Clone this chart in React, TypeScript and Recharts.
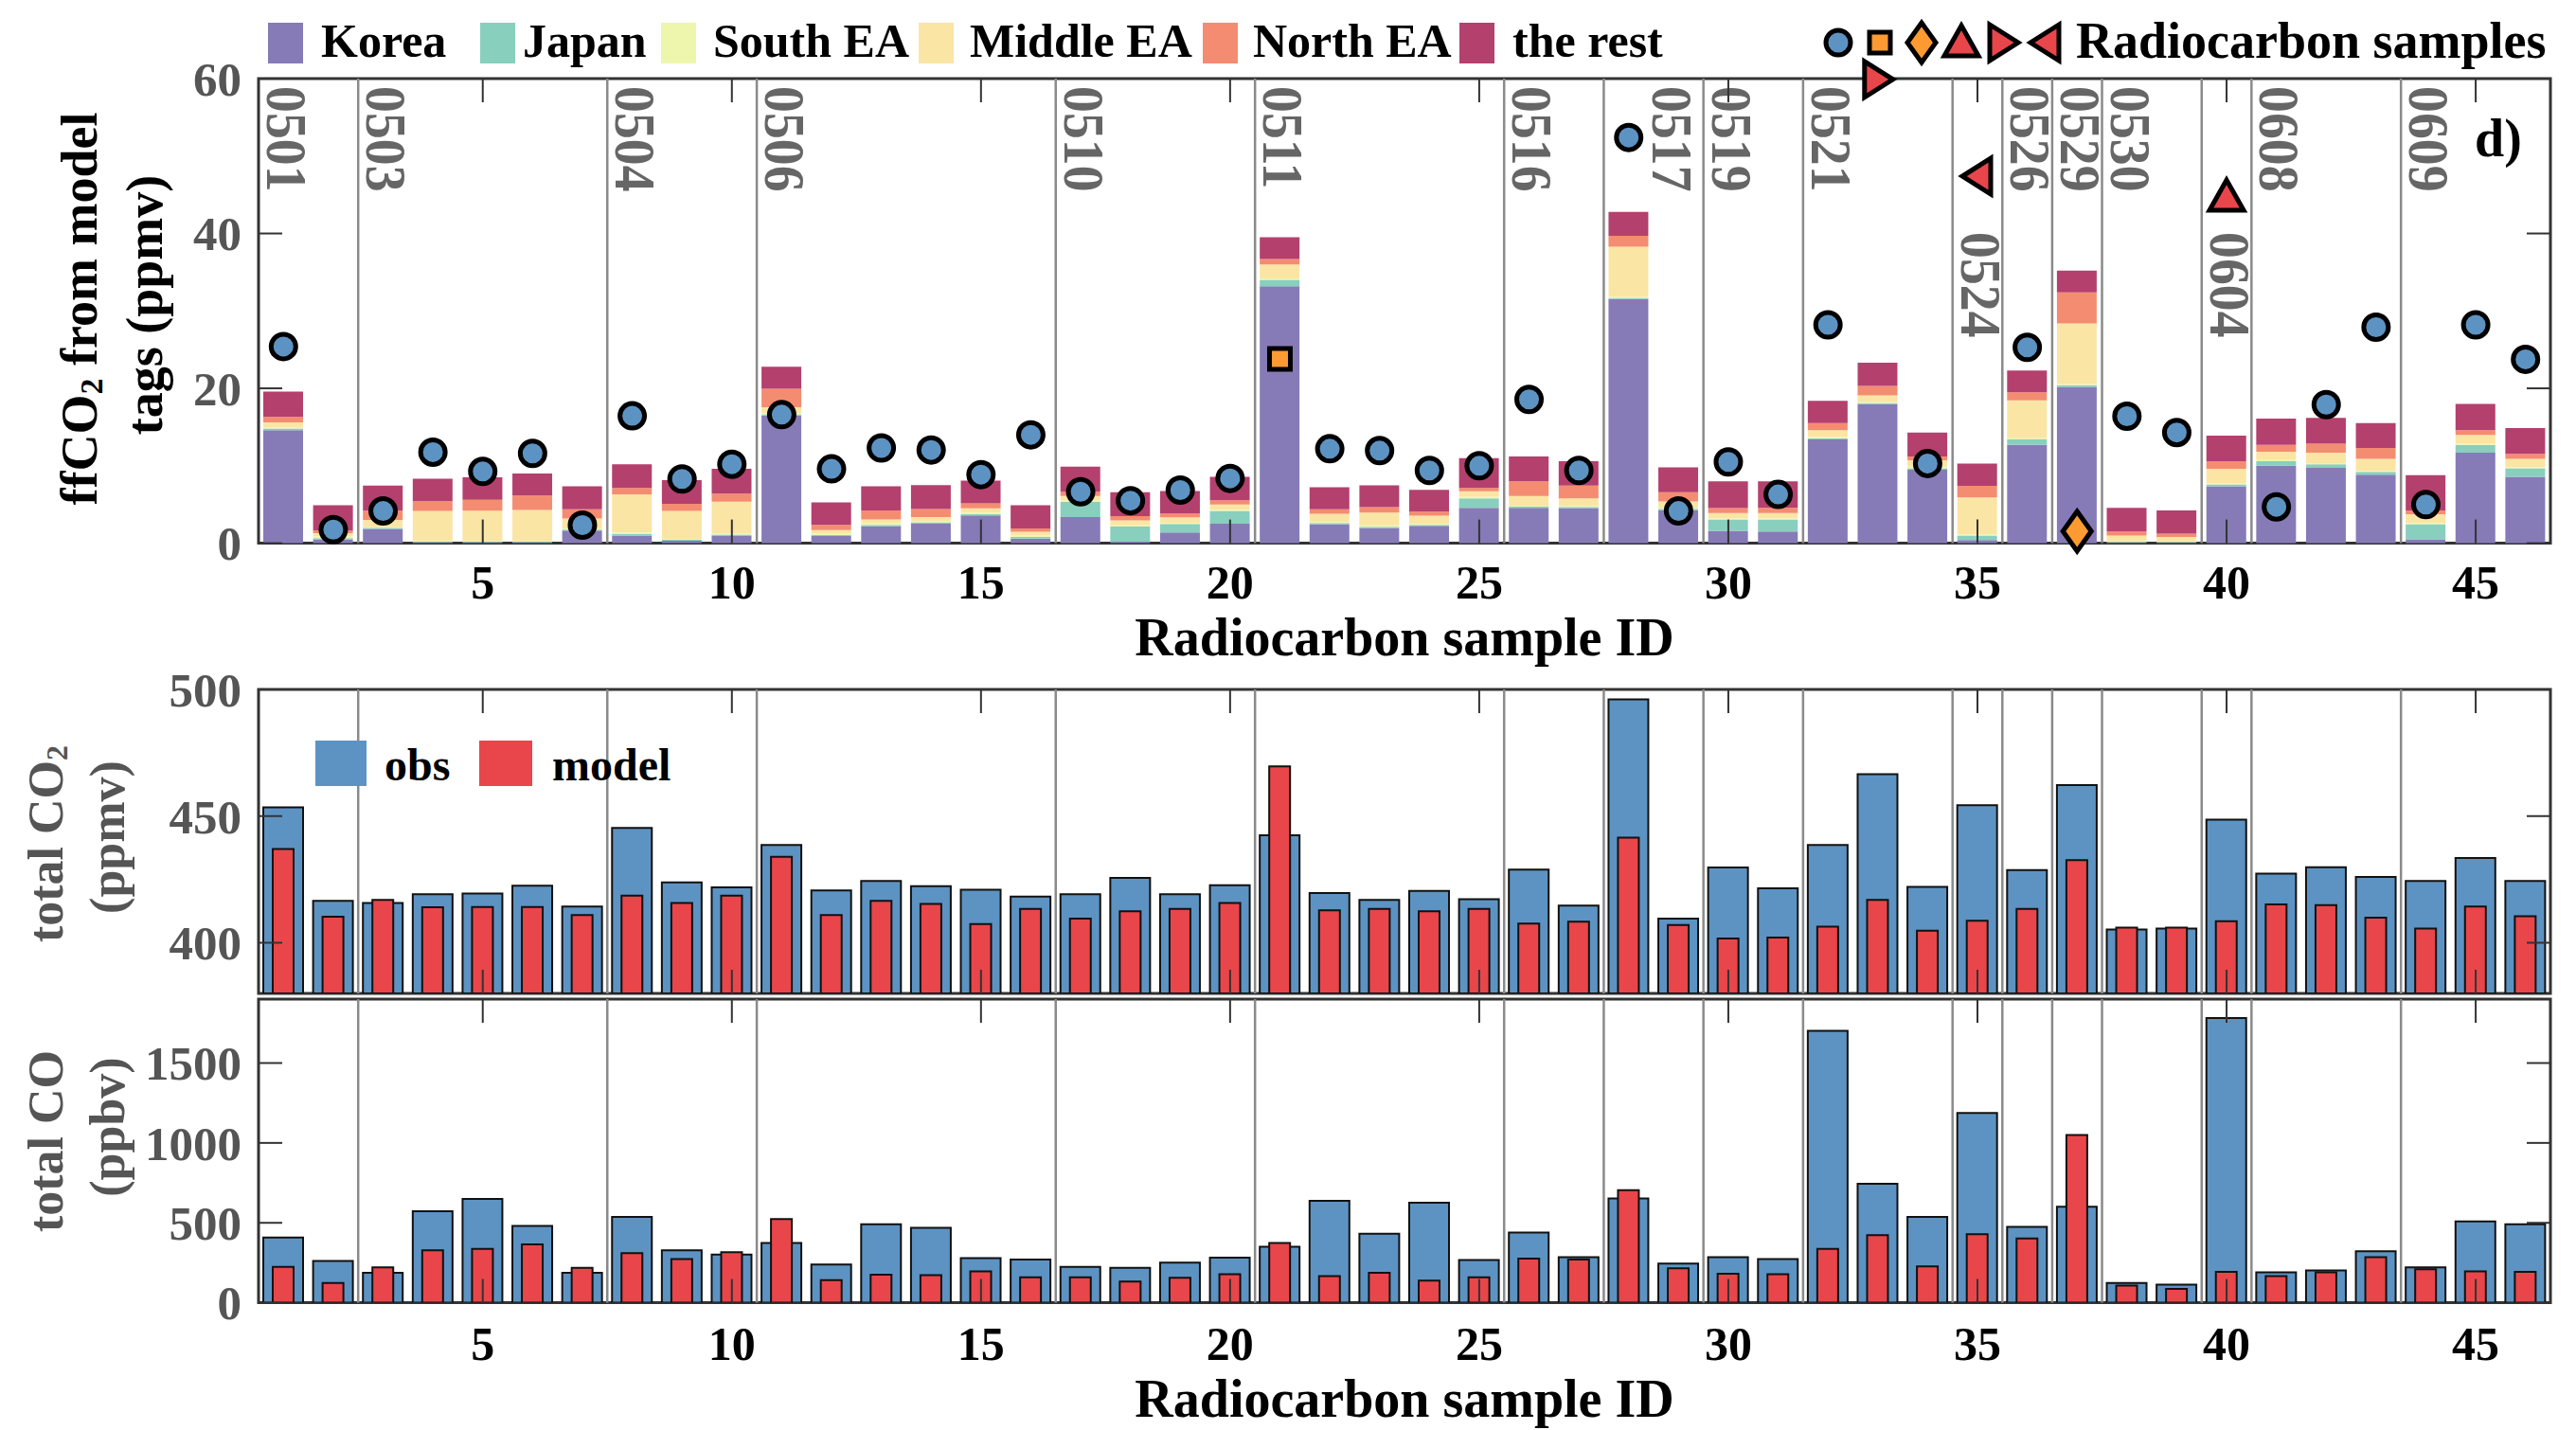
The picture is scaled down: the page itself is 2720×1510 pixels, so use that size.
import React from 'react';
import { ComposedChart, Bar, Scatter, XAxis, YAxis, ReferenceLine, ReferenceArea } from 'recharts';

// ---- data ----
const sampleIds = [1, 2, 3, 4, 5, 6, 7, 8, 9, 10, 11, 12, 13, 14, 15, 16, 17, 18, 19, 20, 21, 22, 23, 24, 25, 26, 27, 28, 29, 30, 31, 32, 33, 34, 35, 36, 37, 38, 39, 40, 41, 42, 43, 44, 45, 46];

const korea = [14.6, 0.5, 1.84, 0.1, 0.1, 0.1, 1.63, 0.98, 0.33, 0.94, 16.5, 0.94, 2.2, 2.53, 3.6, 0.6, 3.39, 0.2, 1.39, 2.53, 33.2, 2.45, 1.96, 2.24, 4.57, 4.57, 4.53, 31.55, 4.29, 1.6, 1.5, 13.4, 17.96, 9.5, 0.4, 12.7, 20.2, 0.08, 0.08, 7.35, 10.0, 9.75, 8.86, 0.5, 11.7, 8.57];
const japan = [0.2, 0.15, 0.16, 0.1, 0.1, 0.1, 0.13, 0.2, 0.12, 0.16, 0.15, 0.12, 0.17, 0.17, 0.15, 0.2, 1.96, 1.96, 1.11, 1.63, 0.8, 0.15, 0.16, 0.13, 1.23, 0.16, 0.17, 0.15, 0.16, 1.46, 1.56, 0.15, 0.14, 0.17, 0.6, 0.7, 0.2, 0.07, 0.04, 0.25, 0.6, 0.45, 0.34, 1.95, 1.0, 1.1];
const southEA = [0.12, 0.25, 0.12, 0.05, 0.05, 0.05, 0.14, 0.17, 0.12, 0.17, 0.15, 0.24, 0.23, 0.2, 0.2, 0.2, 0.15, 0.14, 0.1, 0.17, 0.2, 0.15, 0.18, 0.13, 0.2, 0.12, 0.12, 0.1, 0.15, 0.14, 0.14, 0.15, 0.15, 0.23, 0.14, 0.15, 0.15, 0.15, 0.13, 0.15, 0.15, 0.15, 0.15, 0.15, 0.15, 0.13];
const middleEA = [0.7, 0.4, 0.88, 3.91, 3.95, 4.05, 1.3, 4.95, 3.59, 4.08, 0.75, 0.4, 0.46, 0.49, 0.55, 0.47, 0.6, 0.64, 0.75, 0.67, 1.8, 1.05, 1.66, 1.05, 0.7, 1.25, 0.98, 6.5, 0.8, 0.7, 0.7, 0.9, 0.85, 0.8, 4.76, 4.9, 7.85, 0.7, 0.55, 1.85, 1.05, 1.35, 1.55, 1.15, 1.15, 1.1];
const northEA = [0.7, 0.33, 1.2, 1.27, 1.4, 1.86, 1.17, 0.84, 0.94, 1.05, 2.41, 0.67, 1.18, 1.01, 0.64, 0.43, 0.55, 0.56, 0.49, 0.55, 0.7, 0.57, 0.69, 0.53, 0.44, 1.9, 1.63, 1.4, 1.2, 0.63, 0.67, 0.9, 1.2, 0.5, 1.5, 1.05, 4.0, 0.5, 0.42, 1.0, 0.9, 1.16, 1.4, 0.49, 0.6, 0.65];
const theRest = [3.25, 3.27, 3.23, 2.9, 2.9, 2.84, 2.98, 3.06, 3.06, 3.2, 2.84, 2.9, 3.11, 3.1, 2.94, 3.0, 3.25, 3.1, 2.89, 3.02, 2.8, 2.85, 2.82, 2.82, 3.86, 3.2, 3.17, 3.1, 3.2, 3.47, 3.43, 2.9, 3.0, 3.1, 2.9, 2.8, 2.8, 3.07, 3.02, 3.3, 3.4, 3.34, 3.2, 4.56, 3.4, 3.31];

const obsCO2 = [453.5, 416.5, 415.7, 419.2, 419.4, 422.5, 414.3, 445.3, 423.8, 421.9, 438.6, 420.7, 424.4, 422.3, 420.9, 418.2, 419.2, 425.6, 419.2, 422.7, 442.4, 419.6, 416.9, 420.5, 417.2, 428.9, 414.7, 496.1, 409.5, 429.7, 421.5, 438.6, 466.5, 422.1, 454.3, 428.7, 462.2, 405.2, 405.6, 448.6, 427.3, 429.8, 426, 424.4, 433.5, 424.4];
const modelCO2 = [437, 410.3, 416.9, 414, 414.1, 414.1, 410.9, 418.6, 415.7, 418.6, 433.9, 410.9, 416.5, 415.3, 407.4, 413.4, 409.5, 412.4, 413.4, 415.7, 469.6, 412.8, 413.4, 412.4, 413.4, 407.6, 408.3, 441.5, 407, 401.7, 402.1, 406.4, 416.9, 404.8, 408.7, 413.4, 432.6, 406, 406, 408.5, 415.1, 414.9, 409.9, 405.6, 414.3, 410.5];
const obsCO = [408, 261, 187, 573, 650, 481, 187, 537, 328, 301, 374, 239, 491, 469, 279, 270, 224, 218, 251, 282, 350, 638, 432, 626, 267, 439, 285, 653, 245, 285, 273, 1702, 745, 537, 1187, 475, 601, 123, 113, 1782, 190, 202, 322, 221, 509, 491];
const modelCO = [224, 123, 221, 328, 337, 365, 218, 310, 273, 316, 524, 141, 175, 172, 196, 159, 159, 132, 156, 178, 374, 166, 187, 138, 159, 276, 270, 705, 215, 181, 178, 337, 423, 227, 429, 402, 1049, 107, 86, 193, 166, 190, 285, 209, 196, 193];

// radiocarbon sample markers
const circleIds = [1, 2, 3, 4, 5, 6, 7, 8, 9, 10, 11, 12, 13, 14, 15, 16, 17, 18, 19, 20, 22, 23, 24, 25, 26, 27, 28, 29, 30, 31, 32, 34, 36, 38, 39, 41, 42, 43, 44, 45, 46];
const circleVals = [25.4, 1.76, 4.16, 11.76, 9.27, 11.6, 2.33, 16.45, 8.3, 10.2, 16.6, 9.6, 12.3, 12.04, 8.86, 14.0, 6.65, 5.5, 6.86, 8.37, 12.2, 11.96, 9.4, 10.0, 18.57, 9.4, 52.4, 4.16, 10.5, 6.3, 28.2, 10.3, 25.3, 16.4, 14.3, 4.7, 17.9, 27.9, 5.0, 28.2, 23.75];
const squareIds = [21];
const squareVals = [23.8];
const diamondIds = [37];
const diamondVals = [1.55];
const upIds = [40];
const upVals = [44.7];
const rightIds = [33];
const rightVals = [59.9];
const leftIds = [35];
const leftVals = [47.4];

// date separators
const dateTags = ['0501', '0503', '0504', '0506', '0510', '0511', '0516', '0517', '0519', '0521', '0524', '0526', '0529', '0530', '0604', '0608', '0609'];
const datePos = [0.5, 2.5, 7.5, 10.5, 16.5, 20.5, 25.5, 27.5, 29.5, 31.5, 34.5, 35.5, 36.5, 37.5, 39.5, 40.5, 43.5];

const xTicks = [5, 10, 15, 20, 25, 30, 35, 40, 45];
const ffTicks = [0, 20, 40, 60];
const co2Ticks = [400, 450, 500];
const coTicks = [0, 500, 1000, 1500];

// ---- styling ----
const FONT = '"Liberation Serif", "Times New Roman", serif';
const C_KOREA = '#867BB7';
const C_JAPAN = '#88CFBD';
const C_SOUTH = '#EEF6AE';
const C_MIDDLE = '#FBE5A4';
const C_NORTH = '#F48C71';
const C_REST = '#B4406E';
const BLUE = '#5D93C2';
const RED = '#E8464A';
const ORANGE = '#FD9A31';
const AXIS = '#333333';
const SEP = '#8a8a8a';
const PLOT_R = 2693;
const DOMAIN_X: [number, number] = [0.5, 46.5];
// tag placement tweaks (pixels)
const TAG_DROP: Record<string, number> = { '0524': 162, '0604': 162 };
const TAG_SHIFT: Record<string, number> = { '0517': 52 };

const rows = sampleIds.map((id, i) => ({
  id,
  korea: korea[i],
  japan: japan[i],
  southEA: southEA[i],
  middleEA: middleEA[i],
  northEA: northEA[i],
  rest: theRest[i],
  obsCO2: obsCO2[i],
  modelCO2: modelCO2[i],
  obsCO: obsCO[i],
  modelCO: modelCO[i],
}));

const pts = (ids: number[], vals: number[]) => ids.map((id, i) => ({ id, v: vals[i] }));

function Marker({ kind, cx, cy }: any) {
  const common = { stroke: '#000', strokeWidth: 5, strokeLinejoin: 'miter' as const };
  if (kind === 'circle') return <circle cx={cx} cy={cy} r={13} fill={BLUE} {...common} />;
  if (kind === 'square') return <rect x={cx - 11} y={cy - 11} width={22} height={22} fill={ORANGE} {...common} />;
  if (kind === 'diamond')
    return <polygon points={`${cx},${cy - 21} ${cx + 15},${cy} ${cx},${cy + 21} ${cx - 15},${cy}`} fill={ORANGE} {...common} />;
  if (kind === 'up')
    return <polygon points={`${cx},${cy - 18} ${cx + 18},${cy + 14} ${cx - 18},${cy + 14}`} fill={RED} {...common} />;
  if (kind === 'right')
    return <polygon points={`${cx - 14},${cy - 19} ${cx + 16},${cy} ${cx - 14},${cy + 19}`} fill={RED} {...common} />;
  return <polygon points={`${cx + 14},${cy - 19} ${cx - 16},${cy} ${cx + 14},${cy + 19}`} fill={RED} {...common} />;
}

function XTick({ x, y, payload, plotTop, showLabel, labelDy }: any) {
  return (
    <g>
      <line x1={x} x2={x} y1={y} y2={y - 25} stroke={AXIS} strokeWidth={2} />
      <line x1={x} x2={x} y1={plotTop} y2={plotTop + 25} stroke={AXIS} strokeWidth={2} />
      {showLabel && (
        <text x={x} y={y + labelDy} textAnchor="middle" fontFamily={FONT} fontWeight="bold" fontSize={50} fill="#000">
          {payload.value}
        </text>
      )}
    </g>
  );
}

function YTick({ x, y, payload }: any) {
  return (
    <g>
      <line x1={x} x2={x + 25} y1={y} y2={y} stroke={AXIS} strokeWidth={2} />
      <line x1={PLOT_R - 25} x2={PLOT_R} y1={y} y2={y} stroke={AXIS} strokeWidth={2} />
      <text x={x - 18} y={y} dy="0.35em" textAnchor="end" fontFamily={FONT} fontWeight="bold" fontSize={51} fill="#555">
        {payload.value}
      </text>
    </g>
  );
}

const tagLabel = (text: string, show: boolean) => (props: any) => {
  if (!show) return null;
  const vb = props.viewBox || {};
  const x = vb.x ?? 0;
  const y = vb.y ?? 0;
  const drop = TAG_DROP[text] ?? 8;
  const shift = TAG_SHIFT[text] ?? 9;
  return (
    <text
      transform={`translate(${x + shift},${y + drop}) rotate(90) scale(0.9,1)`}
      fontFamily={FONT}
      fontWeight="bold"
      fontSize={62}
      fill="#666"
    >
      {text}
    </text>
  );
};

function separators(showTags: boolean) {
  return datePos.map((p, i) => (
    <ReferenceLine
      key={`sep${i}`}
      xAxisId="a"
      x={p}
      stroke={i === 0 ? 'none' : SEP}
      strokeWidth={2.5}
      label={tagLabel(dateTags[i], showTags)}
    />
  ));
}

function TopPanel() {
  const H = 660;
  const top = 83;
  const bottom = 573.6;
  return (
    <ComposedChart width={2720} height={H} data={rows} margin={{ top, right: 27, bottom: 0, left: 173 }}>
      <XAxis
        xAxisId="a"
        dataKey="id"
        type="number"
        domain={DOMAIN_X}
        ticks={xTicks}
        interval={0}
        height={H - bottom}
        tickSize={0}
        tickMargin={0}
        axisLine={false}
        tickLine={false}
        tick={<XTick plotTop={top} showLabel labelDy={58} />}
      />
      <XAxis xAxisId="s" dataKey="id" type="number" domain={DOMAIN_X} hide />
      <YAxis
        domain={[0, 60]}
        ticks={ffTicks}
        interval={0}
        width={100}
        tickSize={0}
        tickMargin={0}
        axisLine={false}
        tickLine={false}
        tick={<YTick />}
      />
      {separators(true)}
      <Bar xAxisId="a" dataKey="korea" stackId="s" fill={C_KOREA} barSize={42} isAnimationActive={false} />
      <Bar xAxisId="a" dataKey="japan" stackId="s" fill={C_JAPAN} barSize={42} isAnimationActive={false} />
      <Bar xAxisId="a" dataKey="southEA" stackId="s" fill={C_SOUTH} barSize={42} isAnimationActive={false} />
      <Bar xAxisId="a" dataKey="middleEA" stackId="s" fill={C_MIDDLE} barSize={42} isAnimationActive={false} />
      <Bar xAxisId="a" dataKey="northEA" stackId="s" fill={C_NORTH} barSize={42} isAnimationActive={false} />
      <Bar xAxisId="a" dataKey="rest" stackId="s" fill={C_REST} barSize={42} isAnimationActive={false} />
      <ReferenceArea xAxisId="a" x1={0.5} x2={46.5} y1={0} y2={60} fill="none" fillOpacity={0} stroke={AXIS} strokeWidth={3} />
      <Scatter xAxisId="s" data={pts(circleIds, circleVals)} dataKey="v" isAnimationActive={false} shape={(p: any) => <Marker kind="circle" cx={p.cx} cy={p.cy} />} />
      <Scatter xAxisId="s" data={pts(squareIds, squareVals)} dataKey="v" isAnimationActive={false} shape={(p: any) => <Marker kind="square" cx={p.cx} cy={p.cy} />} />
      <Scatter xAxisId="s" data={pts(diamondIds, diamondVals)} dataKey="v" isAnimationActive={false} shape={(p: any) => <Marker kind="diamond" cx={p.cx} cy={p.cy} />} />
      <Scatter xAxisId="s" data={pts(upIds, upVals)} dataKey="v" isAnimationActive={false} shape={(p: any) => <Marker kind="up" cx={p.cx} cy={p.cy} />} />
      <Scatter xAxisId="s" data={pts(rightIds, rightVals)} dataKey="v" isAnimationActive={false} shape={(p: any) => <Marker kind="right" cx={p.cx} cy={p.cy} />} />
      <Scatter xAxisId="s" data={pts(leftIds, leftVals)} dataKey="v" isAnimationActive={false} shape={(p: any) => <Marker kind="left" cx={p.cx} cy={p.cy} />} />
    </ComposedChart>
  );
}

function PairPanel({ H, top, bottom, domain, ticks, obsKey, modelKey, showLabel }: any) {
  const xh = showLabel ? H - bottom : 1;
  return (
    <ComposedChart width={2720} height={H} data={rows} margin={{ top, right: 27, bottom: showLabel ? 0 : H - bottom - 1, left: 173 }}>
      <XAxis
        xAxisId="a"
        dataKey="id"
        type="number"
        domain={DOMAIN_X}
        ticks={xTicks}
        interval={0}
        height={xh}
        tickSize={0}
        tickMargin={0}
        axisLine={false}
        tickLine={false}
        tick={<XTick plotTop={top} showLabel={showLabel} labelDy={60} />}
      />
      <XAxis xAxisId="b" dataKey="id" type="number" domain={DOMAIN_X} hide />
      <YAxis
        domain={domain}
        ticks={ticks}
        interval={0}
        width={100}
        tickSize={0}
        tickMargin={0}
        axisLine={false}
        tickLine={false}
        allowDataOverflow
        tick={<YTick />}
      />
      {separators(false)}
      <Bar xAxisId="a" dataKey={obsKey} fill={BLUE} stroke="#111" strokeWidth={2} barSize={42} isAnimationActive={false} />
      <Bar xAxisId="b" dataKey={modelKey} fill={RED} stroke="#111" strokeWidth={2} barSize={22} isAnimationActive={false} />
      <ReferenceArea xAxisId="a" x1={0.5} x2={46.5} y1={domain[0]} y2={domain[1]} fill="none" fillOpacity={0} stroke={AXIS} strokeWidth={3} />
    </ComposedChart>
  );
}

const legendItems = [
  { name: 'Korea', color: C_KOREA, sx: 283, tx: 339 },
  { name: 'Japan', color: C_JAPAN, sx: 507, tx: 552 },
  { name: 'South EA', color: C_SOUTH, sx: 698, tx: 753 },
  { name: 'Middle EA', color: C_MIDDLE, sx: 970, tx: 1024 },
  { name: 'North EA', color: C_NORTH, sx: 1270, tx: 1323 },
  { name: 'the rest', color: C_REST, sx: 1541, tx: 1597 },
];
const legendMarkers = [
  { kind: 'circle', x: 1941 },
  { kind: 'square', x: 1985 },
  { kind: 'diamond', x: 2029 },
  { kind: 'up', x: 2071 },
  { kind: 'right', x: 2115 },
  { kind: 'left', x: 2160 },
];

function Overlay() {
  const t = { fontFamily: FONT, fontWeight: 'bold' as const };
  return (
    <svg width={2720} height={1510} style={{ position: 'absolute', left: 0, top: 0, pointerEvents: 'none' }}>
      {legendItems.map((it) => (
        <g key={it.name}>
          <rect x={it.sx} y={24} width={37} height={43} fill={it.color} />
          <text x={it.tx} y={60} fontSize={50} fill="#000" {...t}>{it.name}</text>
        </g>
      ))}
      {legendMarkers.map((m) => (
        <Marker key={m.kind} kind={m.kind} cx={m.x} cy={45} />
      ))}
      <text x={2192} y={61} fontSize={54} fill="#000" {...t}>Radiocarbon samples</text>

      <text x={2638} y={165} fontSize={56} fill="#000" textAnchor="middle" {...t}>d)</text>

      <text transform="translate(84,326) rotate(-90)" textAnchor="middle" dominantBaseline="central" fontSize={54} fill="#000" {...t}>
        ffCO<tspan fontSize={34} dy={12}>2</tspan>
        <tspan dy={-12}> from model</tspan>
      </text>
      <text transform="translate(153,322) rotate(-90)" textAnchor="middle" dominantBaseline="central" fontSize={54} fill="#000" {...t}>
        tags (ppmv)
      </text>
      <text x={1483} y={692} textAnchor="middle" fontSize={56} fill="#000" {...t}>Radiocarbon sample ID</text>

      <rect x={333} y={782} width={54} height={48} fill={BLUE} />
      <text x={406} y={824} fontSize={48} fill="#000" {...t}>obs</text>
      <rect x={506} y={782} width={56} height={48} fill={RED} />
      <text x={583} y={824} fontSize={48} fill="#000" {...t}>model</text>

      <text transform="translate(48,891) rotate(-90)" textAnchor="middle" dominantBaseline="central" fontSize={52} fill="#555" {...t}>
        total CO<tspan fontSize={32} dy={12}>2</tspan>
      </text>
      <text transform="translate(113,884) rotate(-90)" textAnchor="middle" dominantBaseline="central" fontSize={52} fill="#555" {...t}>
        (ppmv)
      </text>
      <text transform="translate(48,1205) rotate(-90)" textAnchor="middle" dominantBaseline="central" fontSize={52} fill="#555" {...t}>
        total CO
      </text>
      <text transform="translate(113,1190) rotate(-90)" textAnchor="middle" dominantBaseline="central" fontSize={52} fill="#555" {...t}>
        (ppbv)
      </text>
      <text x={1483} y={1496} textAnchor="middle" fontSize={56} fill="#000" {...t}>Radiocarbon sample ID</text>
    </svg>
  );
}

export default function App() {
  return (
    <div style={{ position: 'absolute', left: 0, top: 0, width: 2720, height: 1510, background: '#fff', overflow: 'hidden' }}>
      <div style={{ position: 'absolute', left: 0, top: 0 }}>
        <TopPanel />
      </div>
      <div style={{ position: 'absolute', left: 0, top: 700 }}>
        <PairPanel H={360} top={28} bottom={349} domain={[380, 500]} ticks={co2Ticks} obsKey="obsCO2" modelKey="modelCO2" showLabel={false} />
      </div>
      <div style={{ position: 'absolute', left: 0, top: 1050 }}>
        <PairPanel H={410} top={5} bottom={325.6} domain={[0, 1900]} ticks={coTicks} obsKey="obsCO" modelKey="modelCO" showLabel />
      </div>
      <Overlay />
    </div>
  );
}
